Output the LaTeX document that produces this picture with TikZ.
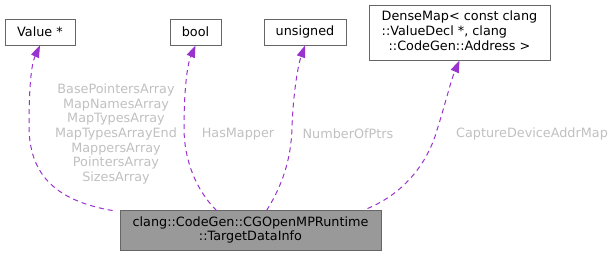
\documentclass[tikz,border=0pt]{standalone}
\usepackage{fontspec}
\setmainfont{DejaVu Sans}
\usetikzlibrary{positioning, arrows.meta, calc}
\definecolor{edgepurple}{HTML}{9A32CD}
\definecolor{labelgrey}{HTML}{C0C0C0}
\definecolor{boxline}{HTML}{666666}
\definecolor{mainfill}{HTML}{999999}

\begin{document}
\begin{tikzpicture}[
  x=1pt, y=-1pt,
  cls/.style={rectangle, draw=boxline, line width=0.9pt, inner sep=2pt, align=center, font=\fontsize{12.8}{14}\selectfont},
  usage/.style={edgepurple, dashed, dash pattern=on 5pt off 4pt, line width=1pt, -{Triangle[length=12pt, width=8.5pt]}},
  lbl/.style={labelgrey, align=center, font=\fontsize{12.8}{14.6}\selectfont}
]
  \useasboundingbox (0,0) rectangle (616,256);

  \node[cls, minimum width=70pt, minimum height=26pt] (value) at (40,32) {Value *};
  \node[cls, minimum width=51pt, minimum height=26pt] (bool) at (195.5,32) {bool};
  \node[cls, minimum width=82pt, minimum height=26pt] (unsigned) at (305,32) {unsigned};
  \node[cls, minimum width=181pt, minimum height=55pt] (densemap) at (459.5,32.5)
    {\renewcommand{\arraystretch}{1.05}\begin{tabular}{@{}l@{}}DenseMap< const clang\\::ValueDecl *, clang\\\multicolumn{1}{@{}c@{}}{::CodeGen::Address >}\end{tabular}};
  \node[cls, fill=mainfill, minimum width=261pt, minimum height=40pt] (tdi) at (250.5,230)
    {clang::CodeGen::CGOpenMPRuntime\\::TargetDataInfo};

  % member edges, drawn from the struct up to the member types
  \draw[usage] ($(tdi.north west)+(-7,1)$) .. controls (45,199) and (29,165) .. (29,125)
    .. controls (29,90) and (31,65) .. (value.south);
  \draw[usage] ($(tdi.north west)+(97,1)$) .. controls (196,190) and (184,160) .. (184,128)
    .. controls (184,92) and (187,65) .. (bool.south);
  \draw[usage] ($(tdi.north west)+(147,1)$) .. controls (282,186) and (291,160) .. (292,128)
    .. controls (293,95) and (298,65) .. (unsigned.south);
  \draw[usage] ($(tdi.north east)+(-14,-1)$) .. controls (405,193) and (428,162) .. (437,130)
    .. controls (445,105) and (451,80) .. (densemap.south);

  \node[lbl] (ptrarrays) at (116,134) {BasePointersArray\\MapNamesArray\\MapTypesArray\\MapTypesArrayEnd\\MappersArray\\PointersArray\\SizesArray};
  \node[lbl] (hasmapper) at (238,134) {HasMapper};
  \node[lbl] (numptrs) at (348,134) {NumberOfPtrs};
  \node[lbl] (capmap) at (532,134) {CaptureDeviceAddrMap};
\end{tikzpicture}
\end{document}
